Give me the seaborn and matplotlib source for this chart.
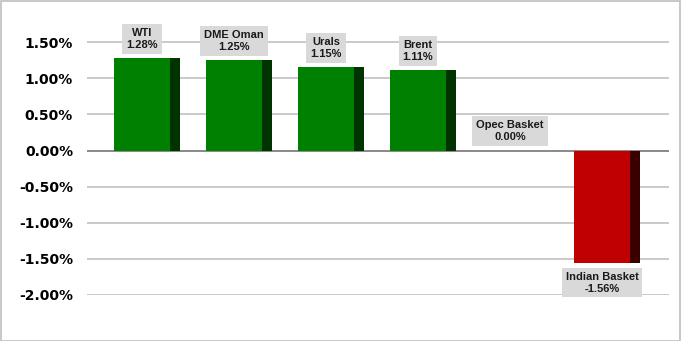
import matplotlib
matplotlib.use("Agg")
import matplotlib.pyplot as plt
import seaborn as sns
import pandas as pd
import numpy as np
from matplotlib.patches import Rectangle
from matplotlib.ticker import FuncFormatter

categories = ["WTI", "DME Oman", "Urals", "Brent", "Opec Basket", "Indian Basket"]
values = [1.28, 1.25, 1.15, 1.11, 0.00, -1.56]
yticks = [-2.0, -1.5, -1.0, -0.5, 0.0, 0.5, 1.0, 1.5]

sns.set_theme(style="white")
plt.rcParams['font.family'] = ['DejaVu Sans']

df = pd.DataFrame({"category": categories, "value": values})
front_colors = ["#008000" if v >= 0 else "#c00000" for v in values]
side_colors = ["#003300" if v >= 0 else "#3a0000" for v in values]

W, H = 681, 341
fig = plt.figure(figsize=(W / 100, H / 100), dpi=100)
left_px, right_px, top_px, bot_px = 87, 669, 6, 295
ax = fig.add_axes([left_px / W, 1 - bot_px / H, (right_px - left_px) / W, (bot_px - top_px) / H])

sns.barplot(data=df, x="category", y="value", hue="category", palette=front_colors,
            width=0.6, legend=False, ax=ax, saturation=1, linewidth=0, zorder=3)
xpos = np.arange(len(categories))
ax.bar(xpos + 0.3 + 0.055, values, width=0.11, color=side_colors, zorder=3, linewidth=0)

unit = 92.0
ax.set_xlim((left_px - 142) / unit, (right_px - 142) / unit)
ax.set_ylim(-2.0, 2.0)
ax.set_yticks(yticks)
ax.yaxis.set_major_formatter(FuncFormatter(lambda v, p: f"{v:.2f}%"))
for y in yticks:
    ax.axhline(y, color="#808080" if y == 0 else "#c0c0c0", lw=1.3 if y == 0 else 1.2, zorder=1)
ax.set_xticks([])
ax.set_xlabel("")
ax.set_ylabel("")
for s in ax.spines.values():
    s.set_visible(False)
ax.tick_params(axis="y", length=0, pad=10)
for lab in ax.get_yticklabels():
    lab.set_fontweight("bold")
    lab.set_fontsize(10)
    lab.set_color("#000000")

for i, (c, v) in enumerate(zip(categories, values)):
    if v >= 0:
        off, va = 6, "bottom"
    else:
        off, va = -6, "top"
    ax.annotate(f"{c}\n{v:.2f}%", xy=(i, v), xytext=(0, off), textcoords="offset points",
                ha="center", va=va, fontsize=8, fontweight="bold", family="Liberation Sans",
                linespacing=1.25, zorder=5, color="#1a1a1a",
                bbox=dict(boxstyle="square,pad=0.35", fc="#d9d9d9", ec="none"))

fig.patches.append(Rectangle((0.5 / W, 0.5 / H), 1 - 1.5 / W, 1 - 1.5 / H, transform=fig.transFigure,
                             fill=False, ec="#bfbfbf", lw=1.2))
fig.savefig("out.png", dpi=100)
